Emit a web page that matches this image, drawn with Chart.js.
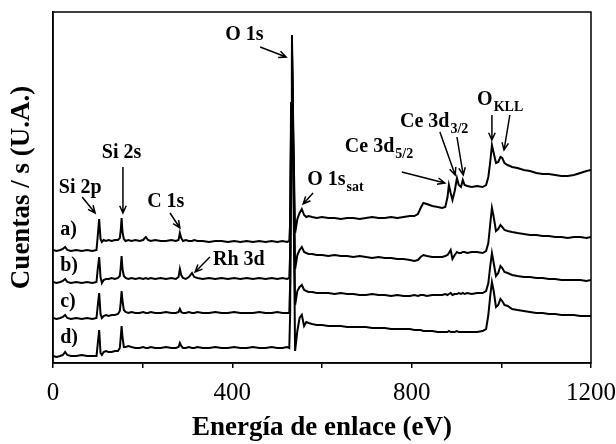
<!DOCTYPE html>
<html>
<head>
<meta charset="utf-8">
<script src="https://cdn.jsdelivr.net/npm/chart.js@4/dist/chart.umd.min.js"></script>
<style>
  body { margin: 0; background: #fff; }
  canvas { display: block; }
</style>
</head>
<body>
<canvas id="xpsChart" width="616" height="444"></canvas>
<script>
// binding energy grid (eV) shared by the four survey spectra
var energy = [
  0, 8, 16, 22, 27, 32, 40, 52, 64, 76, 88, 97,
  100, 103, 106, 109, 113, 118, 124, 131, 138, 145, 149,
  151, 153, 155, 158, 162, 168, 175, 184, 193, 201,
  207, 212, 218, 228, 240, 252, 264, 274, 280, 283, 286, 290,
  296, 303, 310, 315, 322, 334, 348, 362, 376, 390, 404, 418,
  432, 446, 460, 474, 488, 500, 512, 522, 527, 529,
  531, 533, 536, 540, 545, 550, 555, 560, 565, 570,
  578, 588, 600, 614, 628, 642, 656, 670, 684, 698, 712, 726,
  740, 754, 768, 782, 796, 806, 814, 820, 826, 834, 846, 858,
  868, 875, 880, 883, 887, 891, 896, 901, 905, 910, 914, 918,
  924, 934, 946, 958, 966, 971, 975, 979, 983, 988, 993, 998,
  1002, 1007, 1014, 1024, 1036, 1050, 1064, 1078, 1092, 1106, 1120, 1134, 1148,
  1162, 1176, 1190, 1200
];

// counts (offset for stacking), one array per sample
var spectrumA = [
  113, 112, 113, 114, 116, 113, 112, 113, 112, 113, 112, 113,
  128, 144, 124, 121, 123, 122, 123, 122, 123, 123, 125,
  132, 145, 131, 124, 122, 123, 122, 123, 122, 123,
  126, 123, 122, 123, 122, 122, 123, 122, 123, 130, 125, 122,
  123, 122, 122, 123, 122, 122, 121, 122, 122, 121, 122, 121,
  122, 121, 122, 121, 122, 121, 122, 121, 122, 140,
  260, 328, 230, 130, 144, 150, 154, 148, 146, 147,
  146, 145, 146, 145, 145, 144, 145, 145, 144, 145, 146, 145,
  145, 146, 145, 146, 147, 147, 149, 155, 160, 159, 157, 156,
  155, 156, 166, 178, 170, 163, 172, 185, 178, 176, 183, 178,
  177, 176, 177, 176, 178, 186, 200, 218, 210, 200, 201, 206,
  205, 200, 198, 196, 195, 193, 192, 190, 189, 189, 188, 187, 187,
  188, 190, 192, 193
];

var spectrumB = [
  81, 80, 81, 82, 84, 81, 80, 81, 80, 81, 80, 81,
  95, 106, 86, 80, 83, 84, 84, 85, 84, 85, 87,
  95, 107, 94, 87, 85, 84, 85, 84, 85, 84,
  85, 84, 85, 84, 85, 84, 85, 84, 86, 94, 88, 85,
  84, 86, 90, 86, 85, 84, 85, 84, 85, 84, 85, 84,
  85, 84, 85, 84, 85, 84, 85, 84, 85, 110,
  240, 318, 220, 94, 108, 113, 116, 111, 110, 109,
  109, 108, 108, 107, 108, 107, 107, 106, 107, 106, 105, 106,
  105, 105, 104, 104, 103, 102, 103, 106, 108, 107, 106, 106,
  106, 107, 108, 110, 113, 104, 108, 111, 110, 110, 111, 111,
  110, 111, 111, 110, 112, 120, 138, 155, 146, 132, 134, 138,
  136, 133, 132, 131, 130, 129, 128, 128, 127, 127, 126, 126, 125,
  126, 126, 125, 126
];

var spectrumC = [
  45, 44, 45, 46, 48, 45, 44, 45, 44, 45, 44, 45,
  58, 70, 49, 45, 47, 48, 47, 48, 48, 49, 52,
  60, 72, 62, 53, 51, 50, 51, 50, 50, 51,
  50, 50, 51, 50, 50, 51, 50, 50, 51, 54, 51, 50,
  50, 51, 50, 50, 51, 50, 50, 51, 50, 50, 51, 50,
  50, 50, 51, 50, 50, 51, 50, 50, 50, 80,
  230, 310, 210, 58, 72, 76, 78, 73, 72, 71,
  71, 70, 70, 70, 69, 70, 69, 69, 68, 68, 69, 68,
  68, 67, 68, 67, 67, 68, 67, 68, 68, 67, 68, 68,
  68, 69, 68, 69, 70, 68, 69, 69, 70, 69, 70, 69,
  70, 69, 70, 70, 72, 80, 96, 110, 100, 87, 90, 97,
  95, 91, 90, 88, 87, 86, 86, 85, 85, 84, 84, 83, 83,
  83, 83, 82, 83
];

var spectrumD = [
  7, 6, 7, 8, 11, 8, 7, 7, 8, 7, 7, 7,
  20, 33, 10, 8, 11, 12, 11, 11, 12, 12, 15,
  25, 37, 26, 16, 16, 17, 16, 15, 15, 16,
  15, 15, 16, 15, 15, 16, 15, 15, 16, 20, 17, 15,
  15, 16, 15, 15, 16, 15, 15, 16, 15, 15, 16, 15,
  15, 16, 15, 15, 16, 15, 15, 16, 15, 50,
  220, 300, 190, 12, 32, 45, 48, 37, 41, 40,
  39, 38, 38, 37, 37, 37, 36, 36, 36, 36, 35, 35,
  35, 34, 34, 34, 34, 33, 33, 33, 32, 32, 32, 31,
  31, 31, 31, 32, 31, 31, 31, 32, 31, 31, 31, 31,
  31, 31, 31, 32, 34, 48, 66, 81, 72, 56, 58, 64,
  62, 58, 57, 54, 53, 52, 51, 50, 50, 49, 49, 48, 48,
  48, 47, 47, 47
];

var xTickLabels = [0, 400, 800, 1200];
var sampleNames = ['a)', 'b)', 'c)', 'd)'];
var sampleLevels = [133, 97, 61, 25];

// peak assignments: text at (x, y) in eV / counts, arrows as [x1, y1, x2, y2]
var peakNotes = [
  { text: 'O 1s', sub: '', x: 384, y: 328, arrows: [[462, 316, 520, 306]] },
  { text: 'Si 2s', sub: '', x: 109, y: 210, arrows: [[156, 196, 156, 150]] },
  { text: 'Si 2p', sub: '', x: 13, y: 175, arrows: [[65, 166, 94, 150]] },
  { text: 'C 1s', sub: '', x: 210, y: 161, arrows: [[261, 150, 283, 135]] },
  { text: 'Rh 3d', sub: '', x: 357, y: 103, arrows: [[350, 106, 317, 91]] },
  { text: 'O 1s', sub: 'sat', x: 567, y: 183, arrows: [[580, 170, 558, 159]] },
  { text: 'Ce 3d', sub: '5/2', x: 651, y: 216, arrows: [[778, 191, 874, 180]] },
  { text: 'Ce 3d', sub: '3/2', x: 774, y: 241, arrows: [[863, 231, 897, 188], [901, 226, 915, 188]] },
  { text: 'O', sub: 'KLL', x: 946, y: 263, arrows: [[979, 248, 979, 223], [1019, 248, 1006, 213]] }
];

var serif = '"Liberation Serif", "Times New Roman", serif';
Chart.defaults.font.family = serif;
Chart.defaults.color = '#000';

function makeSeries(values) {
  return energy.map(function (e, i) { return { x: e, y: values[i] }; });
}

function drawArrow(ctx, x1, y1, x2, y2) {
  var ang = Math.atan2(y2 - y1, x2 - x1), h = 8;
  ctx.beginPath();
  ctx.moveTo(x1, y1);
  ctx.lineTo(x2, y2);
  ctx.moveTo(x2 - h * Math.cos(ang - 0.42), y2 - h * Math.sin(ang - 0.42));
  ctx.lineTo(x2, y2);
  ctx.lineTo(x2 - h * Math.cos(ang + 0.42), y2 - h * Math.sin(ang + 0.42));
  ctx.stroke();
}

var notesPlugin = {
  id: 'peakNotes',
  afterDraw: function (chart) {
    var ctx = chart.ctx, xs = chart.scales.x, ys = chart.scales.y, a = chart.chartArea;
    ctx.save();
    // closed frame around the plot
    ctx.strokeStyle = '#000';
    ctx.lineWidth = 1.5;
    ctx.strokeRect(a.left, a.top, a.right - a.left, a.bottom - a.top);

    ctx.fillStyle = '#000';
    ctx.textBaseline = 'middle';
    ctx.textAlign = 'left';
    ctx.font = 'bold 20px ' + serif;
    sampleNames.forEach(function (s, i) {
      ctx.fillText(s, xs.getPixelForValue(16), ys.getPixelForValue(sampleLevels[i]));
    });

    ctx.lineWidth = 1.5;
    peakNotes.forEach(function (n) {
      var px = xs.getPixelForValue(n.x), py = ys.getPixelForValue(n.y);
      ctx.font = 'bold 20px ' + serif;
      ctx.fillText(n.text, px, py);
      if (n.sub) {
        var w = ctx.measureText(n.text).width;
        ctx.font = 'bold 14px ' + serif;
        ctx.fillText(n.sub, px + w + 1, py + 7);
      }
      n.arrows.forEach(function (r) {
        drawArrow(ctx, xs.getPixelForValue(r[0]), ys.getPixelForValue(r[1]),
                  xs.getPixelForValue(r[2]), ys.getPixelForValue(r[3]));
      });
    });
    ctx.restore();
  }
};

var spectra = [spectrumA, spectrumB, spectrumC, spectrumD];

new Chart(document.getElementById('xpsChart'), {
  type: 'line',
  data: {
    datasets: spectra.map(function (s, i) {
      return {
        label: sampleNames[i],
        data: makeSeries(s),
        borderColor: '#000',
        borderWidth: 2,
        pointRadius: 0,
        tension: 0
      };
    })
  },
  options: {
    responsive: false,
    animation: false,
    layout: { padding: { top: 12, right: 25, left: 0, bottom: 0 } },
    plugins: { legend: { display: false }, tooltip: { enabled: false } },
    scales: {
      x: {
        type: 'linear',
        min: 0,
        max: 1200,
        afterFit: function (s) {
          s.height = 81;
          s.paddingLeft = 0;
          s.paddingRight = 0;
        },
        ticks: {
          stepSize: 200,
          autoSkip: false,
          maxRotation: 0,
          padding: 10,
          font: { size: 25 },
          callback: function (v) { return xTickLabels.indexOf(v) >= 0 ? String(v) : ''; }
        },
        grid: { drawOnChartArea: false, tickLength: 5, color: '#000', lineWidth: 1.5 },
        border: { color: '#000', width: 1.5 },
        title: {
          display: true,
          text: 'Energía de enlace (eV)',
          font: { size: 27, weight: 'bold' },
          padding: { top: 0, bottom: 0 }
        }
      },
      y: {
        min: 0,
        max: 351,
        afterFit: function (s) { s.width = 53; },
        ticks: { display: false },
        grid: { display: false },
        border: { color: '#000', width: 1.5 },
        title: {
          display: true,
          text: 'Cuentas / s (U.A.)',
          font: { size: 27, weight: 'bold' },
          padding: { top: 6, bottom: 0 }
        }
      }
    }
  },
  plugins: [notesPlugin]
});
</script>
</body>
</html>
